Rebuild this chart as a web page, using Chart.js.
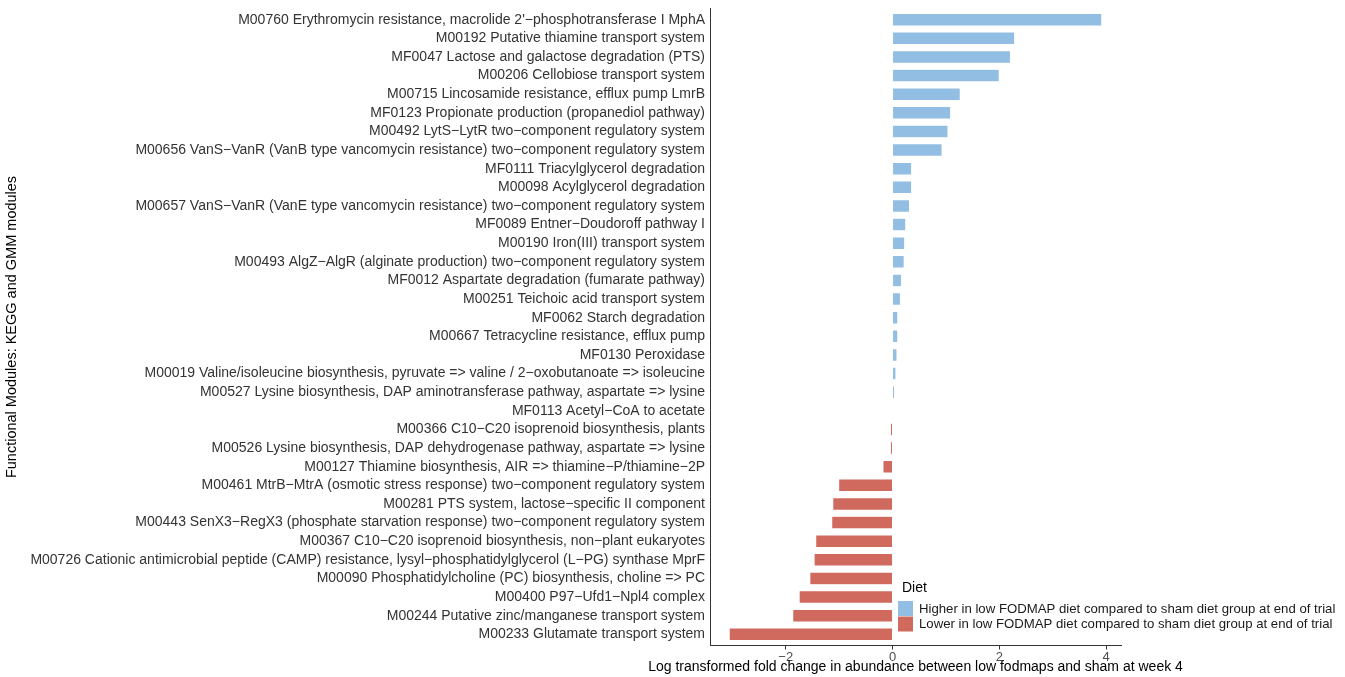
<!DOCTYPE html>
<html>
<head>
<meta charset="utf-8">
<script src="https://cdn.jsdelivr.net/npm/chart.js@4.4.1/dist/chart.umd.min.js"></script>
<style>
  html, body { margin: 0; padding: 0; background: #ffffff; }
  #wrap { width: 1345px; height: 677px; position: relative; }
</style>
</head>
<body>
<div id="wrap"><canvas id="c"></canvas></div>
<script>
// Functional modules (KEGG / GMM), ordered top to bottom
const modules = [
  "M00760 Erythromycin resistance, macrolide 2'\u2212phosphotransferase I MphA",
  "M00192 Putative thiamine transport system",
  "MF0047 Lactose and galactose degradation (PTS)",
  "M00206 Cellobiose transport system",
  "M00715 Lincosamide resistance, efflux pump LmrB",
  "MF0123 Propionate production (propanediol pathway)",
  "M00492 LytS\u2212LytR two\u2212component regulatory system",
  "M00656 VanS\u2212VanR (VanB type vancomycin resistance) two\u2212component regulatory system",
  "MF0111 Triacylglycerol degradation",
  "M00098 Acylglycerol degradation",
  "M00657 VanS\u2212VanR (VanE type vancomycin resistance) two\u2212component regulatory system",
  "MF0089 Entner\u2212Doudoroff pathway I",
  "M00190 Iron(III) transport system",
  "M00493 AlgZ\u2212AlgR (alginate production) two\u2212component regulatory system",
  "MF0012 Aspartate degradation (fumarate pathway)",
  "M00251 Teichoic acid transport system",
  "MF0062 Starch degradation",
  "M00667 Tetracycline resistance, efflux pump",
  "MF0130 Peroxidase",
  "M00019 Valine/isoleucine biosynthesis, pyruvate => valine / 2\u2212oxobutanoate => isoleucine",
  "M00527 Lysine biosynthesis, DAP aminotransferase pathway, aspartate => lysine",
  "MF0113 Acetyl\u2212CoA to acetate",
  "M00366 C10\u2212C20 isoprenoid biosynthesis, plants",
  "M00526 Lysine biosynthesis, DAP dehydrogenase pathway, aspartate => lysine",
  "M00127 Thiamine biosynthesis, AIR => thiamine\u2212P/thiamine\u22122P",
  "M00461 MtrB\u2212MtrA (osmotic stress response) two\u2212component regulatory system",
  "M00281 PTS system, lactose\u2212specific II component",
  "M00443 SenX3\u2212RegX3 (phosphate starvation response) two\u2212component regulatory system",
  "M00367 C10\u2212C20 isoprenoid biosynthesis, non\u2212plant eukaryotes",
  "M00726 Cationic antimicrobial peptide (CAMP) resistance, lysyl\u2212phosphatidylglycerol (L\u2212PG) synthase MprF",
  "M00090 Phosphatidylcholine (PC) biosynthesis, choline => PC",
  "M00400 P97\u2212Ufd1\u2212Npl4 complex",
  "M00244 Putative zinc/manganese transport system",
  "M00233 Glutamate transport system"
];

// Log fold change (low FODMAP vs sham, week 4)
const logFoldChange = [
  3.92, 2.29, 2.21, 2.00, 1.27, 1.09, 1.04, 0.93, 0.36, 0.36,
  0.32, 0.25, 0.23, 0.22, 0.17, 0.15, 0.10, 0.10, 0.085, 0.065,
  0.04, -0.01, -0.04, -0.04, -0.18, -1.01, -1.12, -1.14, -1.44, -1.47,
  -1.55, -1.75, -1.87, -3.06
];

const xTickValues = [-2, 0, 2, 4];

const dietGroups = [
  "Higher in low FODMAP diet compared to sham diet group at end of trial",
  "Lower in low FODMAP diet compared to sham diet group at end of trial"
];
const dietColors = ["#93BEE3", "#D0695E"];

const xTitle = 'Log transformed fold change in abundance between low fodmaps and sham at week 4';
const yTitle = 'Functional Modules: KEGG and GMM modules';

const FONT = '"Liberation Sans", Arial, Helvetica, sans-serif';
Chart.defaults.font.family = FONT;

// Bars for each diet group, placed on the module index
const higherData = logFoldChange.map((v, i) => ({ x: v > 0 ? v : null, y: i }));
const lowerData = logFoldChange.map((v, i) => ({ x: v <= 0 ? v : null, y: i }));

// x-axis title (centred under the panel) and the Diet legend
const annotations = {
  id: 'annotations',
  afterDraw(chart) {
    const ctx = chart.ctx;
    const area = chart.chartArea;
    ctx.save();
    ctx.textBaseline = 'middle';
    ctx.textAlign = 'center';
    ctx.fillStyle = '#000000';
    ctx.font = '14px ' + FONT;
    ctx.fillText(xTitle, (area.left + area.right) / 2, 667);

    ctx.textAlign = 'left';
    ctx.font = '14px ' + FONT;
    ctx.fillText('Diet', 902, 588);
    ctx.font = '13.2px ' + FONT;
    dietGroups.forEach((g, k) => {
      const top = 601 + k * 15.5;
      ctx.fillStyle = dietColors[k];
      ctx.fillRect(898, top, 15, 15);
      ctx.fillStyle = '#1a1a1a';
      ctx.fillText(g, 919, top + 8);
    });
    ctx.restore();
  }
};

new Chart(document.getElementById('c'), {
  type: 'bar',
  data: {
    datasets: [
      { label: dietGroups[0], data: higherData, backgroundColor: dietColors[0],
        borderColor: 'rgba(255,255,255,0.55)', borderWidth: 0.6,
        grouped: false, barPercentage: 0.68, categoryPercentage: 1 },
      { label: dietGroups[1], data: lowerData, backgroundColor: dietColors[1],
        borderColor: 'rgba(255,255,255,0.55)', borderWidth: 0.6,
        grouped: false, barPercentage: 0.68, categoryPercentage: 1 }
    ]
  },
  options: {
    indexAxis: 'y',
    responsive: true,
    maintainAspectRatio: false,
    animation: false,
    devicePixelRatio: 1,
    layout: { padding: { left: 0, right: 224, top: 8.5, bottom: 0 } },
    plugins: {
      legend: { display: false },
      tooltip: { enabled: false }
    },
    scales: {
      x: {
        type: 'linear',
        min: -3.418,
        max: 4.279,
        afterBuildTicks: s => { s.ticks = xTickValues.map(v => ({ value: v })); },
        afterFit: s => { s.height = 31.5; },
        ticks: {
          callback: v => (v < 0 ? '\u2212' + Math.abs(v) : String(v)),
          font: { size: 13 },
          color: '#4d4d4d',
          padding: 0,
          maxRotation: 0
        },
        grid: { display: true, drawOnChartArea: false, drawTicks: true, tickLength: 4, color: '#333333' },
        border: { display: true, color: '#333333', width: 1 },
        title: { display: false }
      },
      y: {
        type: 'linear',
        reverse: true,
        offset: false,
        min: -0.6,
        max: modules.length - 1 + 0.6,
        afterBuildTicks: s => { s.ticks = modules.map((_, i) => ({ value: i })); },
        afterFit: s => { s.width = 710; s.paddingTop = 0; s.paddingBottom = 0; },
        ticks: {
          autoSkip: false,
          callback: v => modules[v],
          font: { size: 14 },
          color: '#333333',
          padding: 5
        },
        grid: { display: false, drawTicks: false, tickLength: 0, offset: false },
        border: { display: true, color: '#333333', width: 1 },
        title: {
          display: true,
          text: yTitle,
          font: { size: 14.5 },
          color: '#000000',
          padding: { top: 3, bottom: 0 }
        }
      }
    }
  },
  plugins: [annotations]
});
</script>
</body>
</html>
